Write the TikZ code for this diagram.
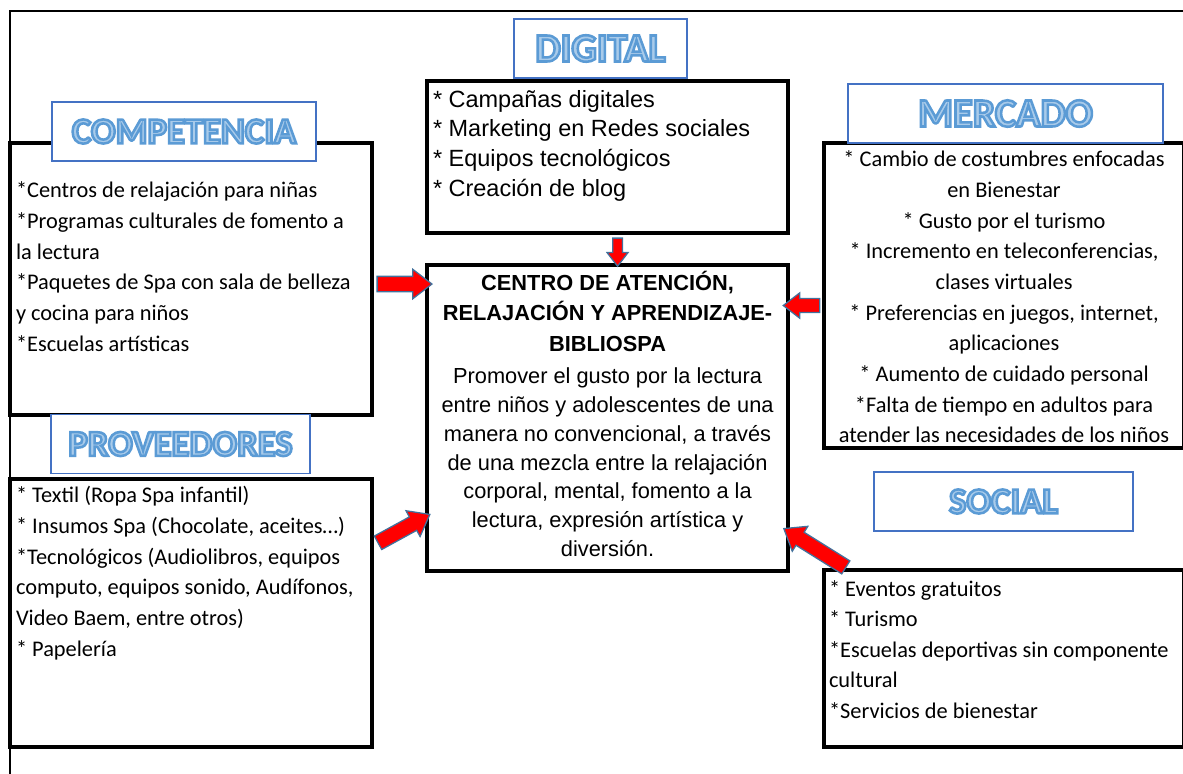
\documentclass[tikz,border=0pt]{standalone}
\usepackage{fontspec}
\setmainfont{Carlito}
\newfontfamily\arialfont{Liberation Sans}
\usetikzlibrary{shapes.arrows,calc}

\definecolor{titleblue}{HTML}{4472C4}
\definecolor{titlefill}{HTML}{A9CBEA}
\definecolor{titleedge}{HTML}{5B9BD5}
\definecolor{arrowedge}{HTML}{41719C}

% outlined title letters: light fill, blue stroke
\newcommand{\titletext}[1]{\textcolor{titlefill}{\special{pdf:literal direct q 2 Tr 1.8 w 0.357 0.608 0.835 RG}#1\special{pdf:literal direct Q}}}
\newcommand{\sidefont}{\fontsize{15.9}{21.8}\selectfont}

\begin{document}
\begin{tikzpicture}[x=0.025cm, y=-0.025cm,
    panel/.style={draw, line width=2.9pt, anchor=north west, outer sep=0pt, inner ysep=0pt, inner xsep=0.15cm},
    titlebox/.style={draw=titleblue, line width=0.8pt, fill=white, minimum height=1.475cm, font=\fontsize{26}{30}\selectfont\bfseries},
    bigarrow/.style={single arrow, draw=arrowedge, fill=red, line width=0.9pt, inner xsep=0pt, inner ysep=5pt, single arrow head extend=5pt, single arrow tip angle=75, sloped, allow upside down, midway}
  ]
    \useasboundingbox (0,0) rectangle (1183,774);

    % Frame
    \draw[line width=2.1pt] (10,774) -- (10,11) -- (1183,11);

    % Boxes
    \node[panel] at (10,143) (comp) {\parbox[c][6.8cm][t]{8.75cm}{\raggedright\sidefont
      \rule{0pt}{39pt}*Centros de relajación para niñas\\{}%
      *Programas culturales de fomento a\\{}%
      la lectura\\{}%
      *Paquetes de Spa con sala de belleza\\{}%
      y cocina para niños\\{}%
      *Escuelas artísticas}};
    \node[panel] at (10,479) (prov) {\parbox[c][6.7cm][t]{8.75cm}{\raggedright\sidefont
      \rule{0pt}{17pt}* Textil (Ropa Spa infantil)\\{}%
      * Insumos Spa (Chocolate, aceites…)\\{}%
      *Tecnológicos (Audiolibros, equipos\\{}%
      computo, equipos sonido, Audífonos,\\{}%
      Video Baem, entre otros)\\{}%
      * Papelería}};
    \node[panel] at (427,81) (dig) {\parbox[c][3.8cm][t]{8.725cm}{\raggedright\arialfont\fontsize{16.7}{21.3}\selectfont
      \rule{0pt}{18.5pt}* Campañas digitales\\{}%
      * Marketing en Redes sociales\\{}%
      * Equipos tecnológicos\\{}%
      * Creación de blog}};
    \node[panel] at (427,265) (centre) {\parbox[c][7.65cm][t]{8.725cm}{\centering\arialfont\bfseries\fontsize{15.5}{22}\selectfont
      \rule{0pt}{17.8pt}CENTRO DE ATENCIÓN,\\
      RELAJACIÓN Y APRENDIZAJE-\\
      BIBLIOSPA\par\vspace{2.4pt}
      \mdseries\fontsize{15.5}{20.4}\selectfont
      Promover el gusto por la lectura\\
      entre niños y adolescentes de una\\
      manera no convencional, a través\\
      de una mezcla entre la relajación\\
      corporal, mental, fomento a la\\
      lectura, expresión artística y\\
      diversión.}};
    \node[panel, inner xsep=0.1cm] at (824,143) (merc) {\parbox[c][7.625cm][t]{8.8cm}{\centering\sidefont
      \rule{0pt}{17pt}* Cambio de costumbres enfocadas\\{}%
      en Bienestar\\{}%
      * Gusto por el turismo\\{}%
      * Incremento en teleconferencias,\\{}%
      clases virtuales\\{}%
      * Preferencias en juegos, internet,\\{}%
      aplicaciones\\{}%
      * Aumento de cuidado personal\\{}%
      *Falta de tiempo en adultos para\\{}%
      atender las necesidades de los niños}};
    \node[panel, inner xsep=0.125cm] at (824,570) (soc) {\parbox[c][4.425cm][t]{8.75cm}{\raggedright\sidefont
      \rule{0pt}{18.5pt}* Eventos gratuitos\\{}%
      * Turismo\\{}%
      *Escuelas deportivas sin componente\\{}%
      cultural\\{}%
      *Servicios de bienestar}};

    % Titles
    \node[titlebox, minimum width=6.6cm] at (184,131.5) (comp-title) {\titletext{COMPETENCIA}};
    \node[titlebox, minimum width=6.475cm] at (180.5,444) (prov-title) {\titletext{PROVEEDORES}};
    \node[titlebox, minimum width=4.325cm, font=\fontsize{28.5}{32}\selectfont\bfseries] at (600.5,48.5) (dig-title) {\titletext{DIGITAL}};
    \node[titlebox, minimum width=7.875cm, font=\fontsize{28.5}{32}\selectfont\bfseries] at (1005.5,113.5) (merc-title) {\titletext{MERCADO}};
    \node[titlebox, minimum width=6.475cm] at (1003.5,501.5) (soc-title) {\titletext{SOCIAL}};

    % Arrows into the centre
    \path ($(comp.east)+(0,5)$) -- ($(comp.east -| centre.west)+(0,5)$) node[bigarrow, minimum height=39pt] {};
    \path ($(prov.north east)!0.25!(prov.south east)$) -- ($(centre.north west)!0.82!(centre.south west)$) node[bigarrow, minimum height=42pt] {};
    \path ($(dig.south)+(10,0)$) -- ($(centre.north)+(10,0)$) node[bigarrow, inner ysep=3pt, single arrow head extend=4pt, minimum height=20pt] {};
    \path ($(merc.west)+(0,10)$) -- ($(merc.west -| centre.east)+(0,10)$) node[bigarrow, inner ysep=4.5pt, single arrow head extend=4pt, minimum height=26pt] {};
    \path ($(soc.north west)+(26,0)$) -- ($(centre.north east)!0.87!(centre.south east)$) node[bigarrow, minimum height=52pt] {};

  \end{tikzpicture}
\end{document}
